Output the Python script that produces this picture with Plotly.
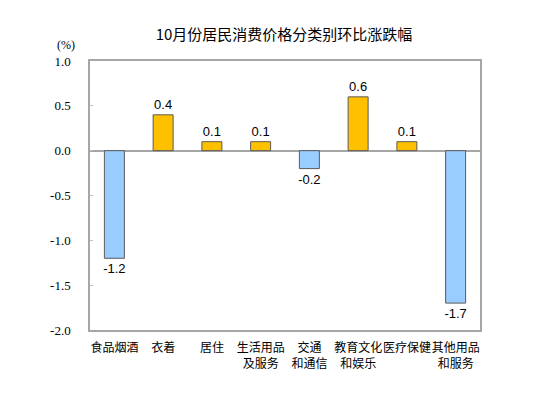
import plotly.graph_objects as go

categories = ["食品烟酒", "衣着", "居住", "生活用品<br>及服务", "交通<br>和通信", "教育文化<br>和娱乐", "医疗保健", "其他用品<br>和服务"]
values = [-1.2, 0.4, 0.1, 0.1, -0.2, 0.6, 0.1, -1.7]
tick_vals = [-2.0, -1.5, -1.0, -0.5, 0.0, 0.5, 1.0]
tick_text = ["-2.0", "-1.5", "-1.0", "-0.5", "0.0", "0.5", "1.0"]

colors = ["#99CCFF" if v < 0 else "#FFC000" for v in values]
labels = [f"{v:.1f}" for v in values]

W, H = 556, 398
ML, MR, MT, MB = 82, 84, 53, 76
PW, PH = W - ML - MR, H - MT - MB
SERIF = "Liberation Serif"

fig = go.Figure()
fig.add_trace(go.Bar(
    x=categories, y=values,
    marker=dict(color=colors, line=dict(color="#5a5a5a", width=1)),
    text=labels, textposition="outside", constraintext="none",
    textfont=dict(family="Liberation Sans", size=13, color="#000000"),
    cliponaxis=False,
))

fig.update_layout(
    width=W, height=H,
    margin=dict(l=ML, r=MR, t=MT, b=MB, autoexpand=False),
    paper_bgcolor="white", plot_bgcolor="white",
    bargap=0.59,
    showlegend=False,
    title=dict(text="10月份居民消费价格分类别环比涨跌幅", x=276 / W, xanchor="center",
               y=1 - 27 / H, yanchor="middle",
               font=dict(family="Noto Sans CJK SC", size=15, color="#000000")),
    xaxis=dict(showline=True, linecolor="#a6a6a6", linewidth=1.5, mirror=True,
               tickfont=dict(family="Noto Sans CJK SC", size=12, color="#000000"),
               ticks="", showgrid=False, tickangle=0, automargin=False,
               ticklabelstandoff=6),
    yaxis=dict(range=[-2.0, 1.0], tickvals=tick_vals, ticktext=tick_text,
               showline=True, linecolor="#a6a6a6", linewidth=1.5, mirror=True,
               ticks="inside", ticklen=3, tickcolor="#c0c0c0",
               tickfont=dict(family=SERIF, size=13, color="#000000"),
               showgrid=False, zeroline=True, zerolinecolor="#a6a6a6", zerolinewidth=2,
               automargin=False, ticklabelstandoff=15),
)
fig.add_annotation(text="(%)", xref="paper", yref="paper",
                   x=(58 - ML) / PW, y=(H - MB - 37) / PH,
                   xanchor="center", yanchor="middle", showarrow=False,
                   font=dict(family=SERIF, size=12, color="#000000"))

fig.write_html("out.html")
